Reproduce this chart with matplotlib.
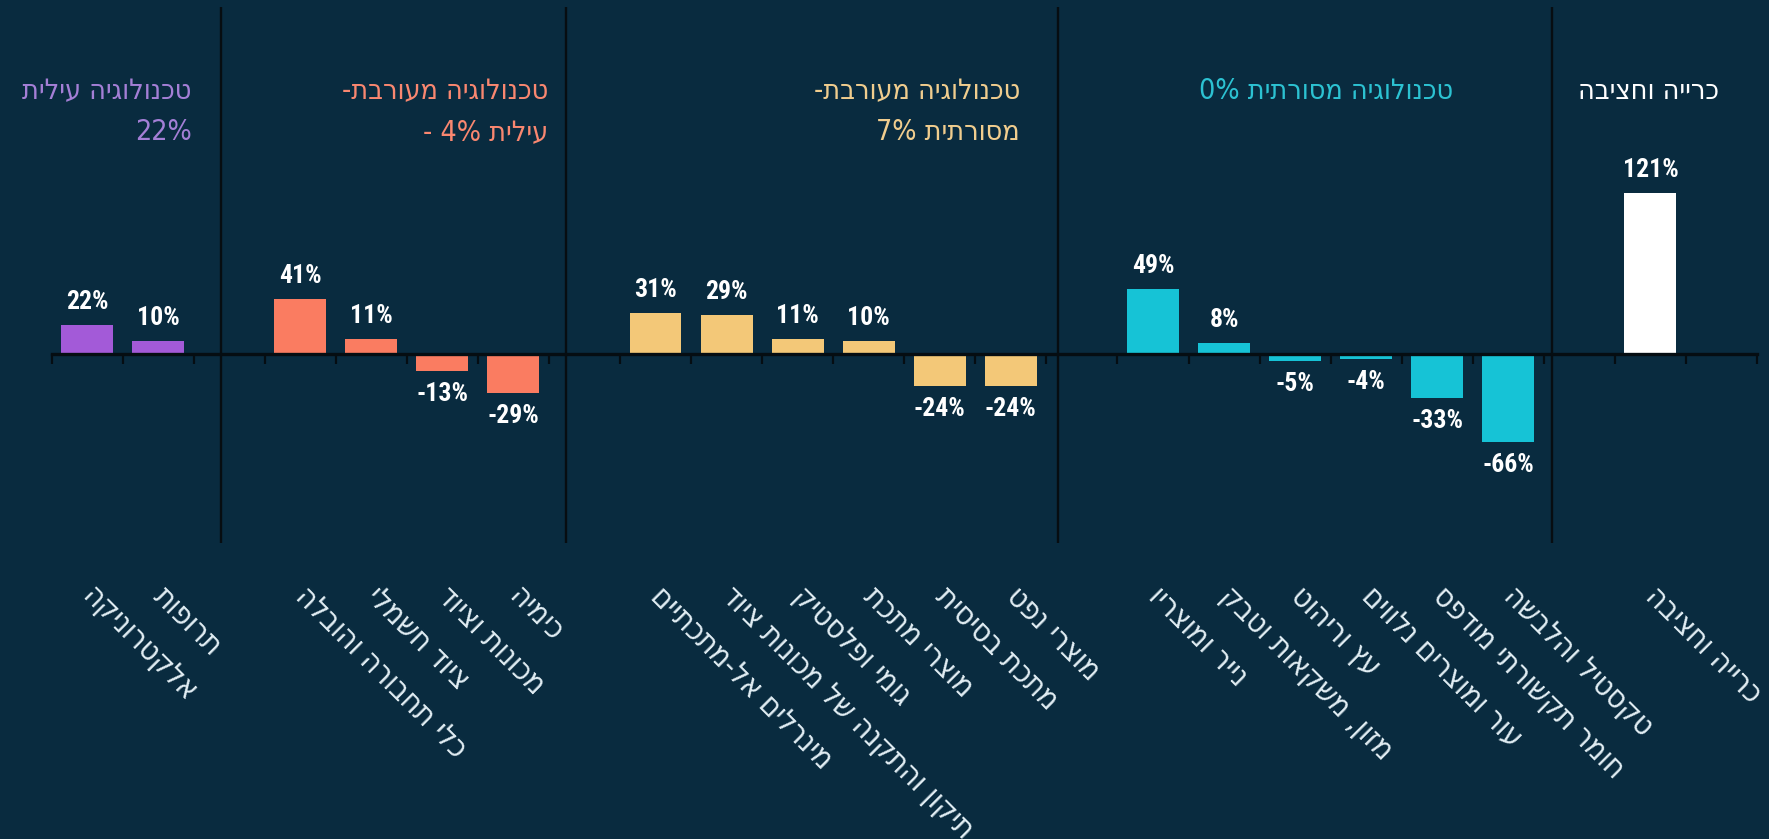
import re
import matplotlib
matplotlib.use("Agg")
import matplotlib.pyplot as plt
from matplotlib import font_manager as fm
from matplotlib.font_manager import FontProperties
from matplotlib.ft2font import FT2Font
import matplotlib.transforms as mtransforms

# ---------------- data ----------------
g1_labels = ["אלקטרוניקה", "תרופות"]
g1_values = [22, 10]
g2_labels = ["כלי תחבורה והובלה", "ציוד חשמלי", "מכונות וציוד", "כימיה"]
g2_values = [41, 11, -13, -29]
g3_labels = ["מינרלים אל-מתכתיים", "תיקון והתקנה של מכונות ציוד", "גומי ופלסטיק",
             "מוצרי מתכת", "מתכת בסיסית", "מוצרי נפט"]
g3_values = [31, 29, 11, 10, -24, -24]
g4_labels = ["נייר ומוצריו", "מזון, משקאות וטבק", "עץ וריהוט", "עור ומוצרים נלווים",
             "חומר תקשורתי מודפס", "טקסטיל והלבשה"]
g4_values = [49, 8, -5, -4, -33, -66]
g5_labels = ["כרייה וחציבה"]
g5_values = [121]

group_titles = [
    ["טכנולוגיה עילית", "22%"],
    ["טכנולוגיה מעורבת-", "עילית 4% -"],
    ["טכנולוגיה מעורבת-", "מסורתית 7%"],
    ["טכנולוגיה מסורתית 0%"],
    ["כרייה וחציבה"],
]

# ---------------- style ----------------
BG = "#092b3f"
bar_colors = ["#a35ad8", "#fa7c61", "#f3c878", "#16c3d6", "#ffffff"]
title_colors = ["#a47fd6", "#f98770", "#f0cd8e", "#2cc2d2", "#ffffff"]
LABEL_COLOR = "#e2eef4"

# ---- font discovery: prefer condensed faces when installed ----
cond_words = ("condensed", "narrow")
cands = [f for f in fm.fontManager.ttflist
         if f.stretch in ("condensed", "semi-condensed", "extra-condensed")
         or any(w in f.fname.lower() for w in cond_words)]


def has_char(fname, ch):
    try:
        return ord(ch) in FT2Font(fname).get_charmap()
    except Exception:
        return False


def is_bold(f):
    w = f.weight
    if isinstance(w, str):
        return w in ("bold", "heavy", "black", "demibold", "semibold", "extra bold")
    return w >= 600


def is_plain(f):
    w = f.weight
    ok_w = (w in ("normal", "regular", "book", "medium")) if isinstance(w, str) else 350 <= w <= 500
    return ok_w and f.style == "normal"


pref = ["Roboto", "Noto Sans", "Open Sans", "Liberation Sans", "DejaVu Sans", "Lato", "Inter"]


def rank(f):
    for i, p in enumerate(pref):
        if f.name.startswith(p):
            return i
    return len(pref)


num_fp_file = None
for f in sorted([c for c in cands if is_bold(c) and c.style == "normal" and has_char(c.fname, "%")], key=rank):
    num_fp_file = f.fname
    break

heb_fp_file = None
for f in sorted([c for c in cands if is_plain(c) and has_char(c.fname, "א")], key=rank):
    heb_fp_file = f.fname
    break


def num_props(size):
    if num_fp_file:
        return FontProperties(fname=num_fp_file, size=size)
    return FontProperties(family="DejaVu Sans", weight="bold", size=size * 0.82)


def heb_props(size):
    if heb_fp_file:
        return FontProperties(fname=heb_fp_file, size=size)
    return FontProperties(family="DejaVu Sans", size=size * 0.8)


def visual(s):
    """Logical RTL string -> visual order for a LTR renderer."""
    r = s[::-1]
    return re.sub(r"[0-9%]+", lambda m: m.group(0)[::-1], r)


# ---------------- layout ----------------
W, H = 1769, 839
fig = plt.figure(figsize=(W / 100, H / 100), dpi=100, facecolor=BG)
ax_left, ax_right = 51.5 / W, 1757 / W
ax = fig.add_axes([ax_left, 0, ax_right - ax_left, 1])
ax.set_facecolor(BG)

groups = [(g1_labels, g1_values), (g2_labels, g2_values), (g3_labels, g3_values),
          (g4_labels, g4_values), (g5_labels, g5_values)]

positions, all_labels = [], []
slot = 0
for gi, (labs, vals) in enumerate(groups):
    xs = list(range(slot, slot + len(vals)))
    bars = ax.bar(xs, vals, width=0.73, color=bar_colors[gi], zorder=2)
    txts = ax.bar_label(bars, labels=[f"{v}%" for v in vals], padding=8, color="white")
    for t in txts:
        t.set_fontproperties(num_props(18.5))
    positions += xs
    all_labels += labs
    slot += len(vals) + 1

n_slots = slot
ax.set_xlim(-0.5, n_slots - 0.5)
ax.set_ylim(-364.4, 266)

# axis line and ticks
for s in ["top", "left", "right"]:
    ax.spines[s].set_visible(False)
ax.spines["bottom"].set_position(("data", 0))
ax.spines["bottom"].set_color("#050d12")
ax.spines["bottom"].set_linewidth(2.4)
ax.spines["bottom"].set_zorder(3)
ax.set_yticks([])
ax.set_xticks(positions)
ax.set_xticks([k - 0.5 for k in range(n_slots + 1)], minor=True)
ax.tick_params(axis="x", which="minor", length=7, width=1.6, color="#050d12", direction="out")
ax.tick_params(axis="x", which="major", length=0, pad=164)
ax.set_xticklabels([visual(l) for l in all_labels])
offset = mtransforms.ScaledTranslation(10 / 100, 0, fig.dpi_scale_trans)
for lab in ax.get_xticklabels():
    lab.set_rotation(-45)
    lab.set_rotation_mode("anchor")
    lab.set_ha("left")
    lab.set_va("top")
    lab.set_color(LABEL_COLOR)
    lab.set_fontproperties(heb_props(22))
    lab.set_transform(lab.get_transform() + offset)

# group separators
sep_x = [1.885, 6.74, 13.66, 20.62]
ax.vlines(sep_x, -142, 261, color="#070d11", linewidth=1.7, zorder=1)

# group titles
title_right = [1.47, 6.49, 13.13, 19.22, 22.96]
line_y = [197.6, 166.5]
for gi, lines in enumerate(group_titles):
    for li, line in enumerate(lines):
        ax.text(title_right[gi], line_y[li], visual(line), ha="right", va="center",
                color=title_colors[gi], fontproperties=heb_props(20.5), clip_on=False)

fig.savefig("out.png", dpi=100, facecolor=BG)
